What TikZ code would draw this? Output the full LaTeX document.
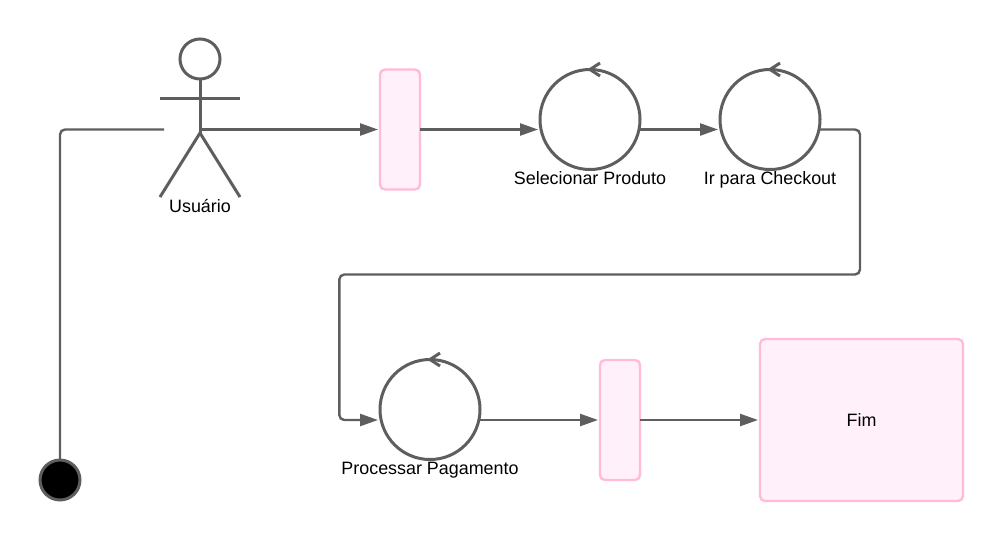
\documentclass[tikz,border=0pt]{standalone}
\usepackage{fontspec}
\setmainfont{Liberation Sans}
\usetikzlibrary{arrows.meta,calc}
\definecolor{ink}{HTML}{5E5E5E}
\definecolor{pinkfill}{HTML}{FFF0FA}
\definecolor{pinkline}{HTML}{FFBBD8}
\tikzset{
  lane/.style={draw=pinkline,fill=pinkfill,line width=2.4pt,rounded corners=5pt,inner sep=0pt,outer sep=0pt,minimum width=#1},
  statec/.style={circle,draw=ink,line width=3pt,minimum size=100pt,inner sep=0pt,outer sep=0pt},
  stroke/.style={draw=ink,line width=3pt},
  conn/.style={draw=ink,line width=2.4pt,rounded corners=5pt,-{Triangle[length=18pt,width=12pt,color=ink]},shorten >=2pt},
  plain/.style={draw=ink,line width=2.4pt,rounded corners=5pt},
  lab/.style={font=\fontsize{17.9}{21}\selectfont,text=black,inner sep=0pt,anchor=base}
}
\begin{document}
\begin{tikzpicture}[x=1pt,y=-1pt]
\useasboundingbox (0,0) rectangle (1003,542);
% actor
\node[circle,draw=ink,line width=3pt,minimum size=40pt,inner sep=0pt,outer sep=0pt] (head) at (200,59) {};
\coordinate (hip) at (200,133);
\coordinate (waist) at (200,129.5);
\coordinate (handL) at (164,129.5);
\draw[stroke] (head.south) -- (hip);
\draw[stroke] (160,98.7) -- (240,98.7);
\draw[stroke] (160,197) -- (hip) -- (240,197);
\node[lab] (actorlabel) at (200,212) {Usuário};
% start
\node[circle,draw=ink,fill=black,line width=3pt,minimum size=40pt,inner sep=0pt,outer sep=0pt] (start) at (60,480) {};
% lanes
\node[lane=40pt,minimum height=120pt] (r1) at (400,129.5) {};
\node[lane=40pt,minimum height=120pt] (r2) at (620,420) {};
\node[lane=203pt,minimum height=162pt] (fim) at (861.5,420) {};
\node[lab] (fimlabel) at (861.5,426) {Fim};
% states
\node[statec] (c1) at (590,119.5) {};
\node[statec] (c2) at (770,119.5) {};
\node[statec] (c3) at (430,409.5) {};
\foreach \c in {c1,c2,c3}
  \draw[stroke] ($(\c.north)+(10,-6.5)$) -- (\c.north) -- ($(\c.north)+(10,6.5)$);
\node[lab] (l1) at (590,184) {Selecionar Produto};
\node[lab] (l2) at (770,184) {Ir para Checkout};
\node[lab] (l3) at (430,474.5) {Processar Pagamento};
% connectors
\draw[plain] (handL) -- (60,129.5) -- (start.north);
\draw[conn] (waist) -- (r1.west);
\draw[conn] (r1.east) -- (c1.west |- r1.east);
\draw[conn] (c1.east |- r1.east) -- (c2.west |- r1.east);
\draw[conn] (c2.east |- r1.east) -- (860,129.5) -- (860,274.5) -- (339.3,274.5) -- (339.3,420) -- (c3.west |- r2.west);
\draw[conn] (c3.east |- r2.west) -- (r2.west);
\draw[conn] (r2.east) -- (fim.west);
\end{tikzpicture}
\end{document}
